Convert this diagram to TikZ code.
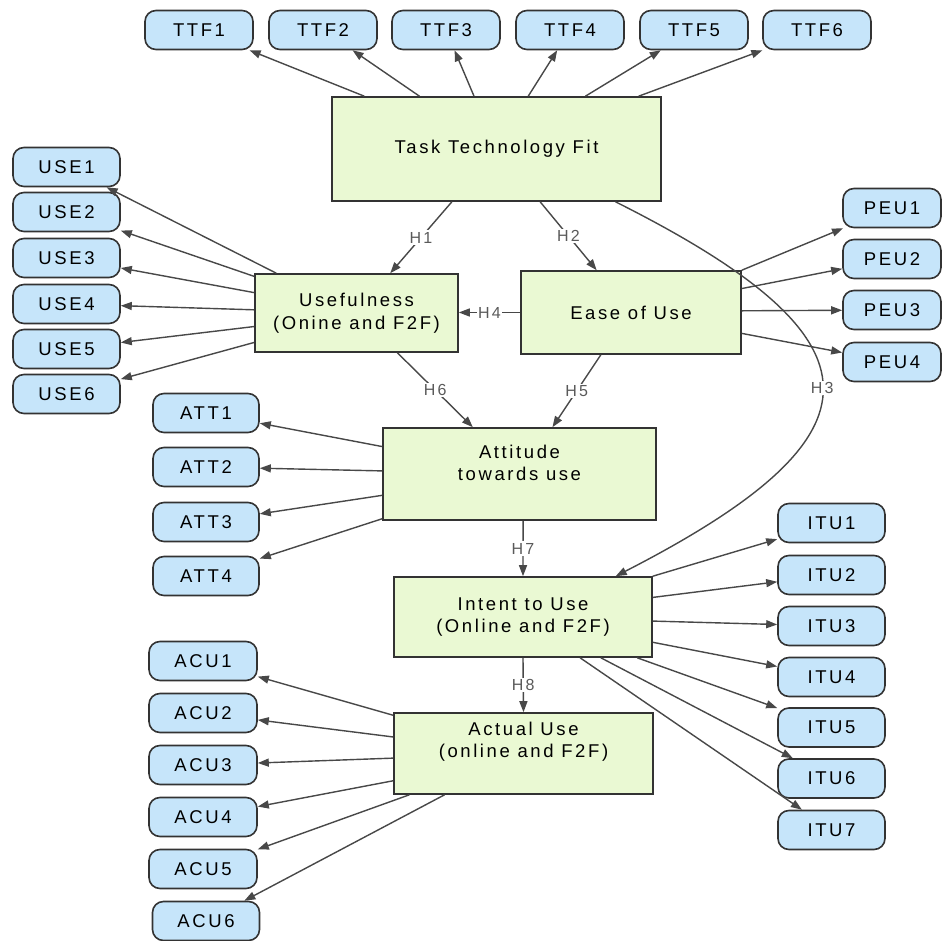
\documentclass[tikz,border=0pt]{standalone}
\usepackage{fontspec}
\setmainfont{Liberation Sans}[LetterSpace=14]
\usetikzlibrary{arrows.meta,calc}
\definecolor{indfill}{HTML}{C6E5FA}
\definecolor{confill}{HTML}{EAF9D3}
\definecolor{edgecol}{HTML}{333333}
\definecolor{arrcol}{HTML}{484848}
\definecolor{hcol}{HTML}{5A5A5A}
\begin{document}
\begin{tikzpicture}[x=1pt,y=-1pt,
  ind/.style={draw=edgecol, line width=1.6pt, fill=indfill, rounded corners=11pt,
    minimum width=107pt, minimum height=39pt, inner sep=0pt,
    font=\fontsize{18.5}{22.5}\selectfont},
  con/.style={draw=edgecol, line width=1.6pt, fill=confill, inner sep=0pt,
    align=center, font=\fontsize{18.5}{22.5}\selectfont},
  contxt/.style={inner sep=0pt, align=center, font=\fontsize{18.5}{22.5}\selectfont},
  arr/.style={draw=arrcol, line width=1.4pt, -{Triangle[length=11pt,width=8pt]}},
  hl/.style={fill=white, text=hcol, inner sep=1.5pt, font=\fontsize{16}{18}\selectfont}]
\fill[white] (0,0) rectangle (943,941);
\useasboundingbox (0,0) rectangle (943,941);

% constructs
\node[con, minimum width=329pt, minimum height=104pt] (ttf) at (496.5,149) {Task Technology Fit};
\node[con, minimum width=203pt, minimum height=78pt] (usf) at (356.5,313) {Usefulness\\(Onine and F2F)};
\node[con, minimum width=220pt, minimum height=83pt] (eou) at (631,312.5) {Ease of Use};
\node[con, minimum width=273pt, minimum height=92pt] (att) at (519.5,474) {};
\node[contxt] (attt) at ($(att.center)+(0,-11)$) {Attitude\\towards use};
\node[con, minimum width=258pt, minimum height=80pt] (int) at (523,617) {Intent to Use\\(Online and F2F)};
\node[con, minimum width=259pt, minimum height=81pt] (act) at (523.5,753.5) {};
\node[contxt] (actt) at ($(act.center)+(0,-12)$) {Actual Use\\(online and F2F)};

% indicators
\foreach \n/\x in {1/199,2/323,3/446,4/570,5/694,6/817}
  \node[ind, minimum width=108pt] (t\n) at (\x,30) {TTF\n};
\foreach \n/\y in {1/167,2/212,3/258,4/304,5/349,6/394}
  \node[ind] (u\n) at (66.5,\y) {USE\n};
\foreach \n/\y in {1/208,2/259,3/310,4/362}
  \node[ind, minimum width=98pt] (p\n) at (892,\y) {PEU\n};
\foreach \n/\y in {1/413,2/467,3/522,4/576}
  \node[ind, minimum width=106pt] (a\n) at (206,\y) {ATT\n};
\foreach \n/\y in {1/523,2/575,3/626,4/677,5/727.5,6/778.5,7/830}
  \node[ind] (i\n) at (831.5,\y) {ITU\n};
\foreach \n/\y in {1/661,2/713,3/765,4/817,5/869}
  \node[ind, minimum width=108pt] (c\n) at (203,\y) {ACU\n};
\node[ind] (c6) at (206,921) {ACU6};

% TTF indicators
\foreach \f/\n in {0.10/1,0.267/2,0.432/3,0.596/4,0.769/5,0.930/6}
  \draw[arr] ($(ttf.north west)!\f!(ttf.north east)$) -- (t\n);
% USE indicators
\draw[arr] ($(usf.north west)!0.108!(usf.north east)$) -- (u1);
\foreach \f/\n in {0.04/2,0.244/3,0.46/4,0.67/5,0.87/6}
  \draw[arr] ($(usf.north west)!\f!(usf.south west)$) -- (u\n);
% PEU indicators
\draw[arr] (eou.north east) -- (p1);
\foreach \f/\n in {0.217/2,0.48/3,0.747/4}
  \draw[arr] ($(eou.north east)!\f!(eou.south east)$) -- (p\n);
% ATT indicators
\foreach \f/\n in {0.207/1,0.467/2,0.728/3,0.978/4}
  \draw[arr] ($(att.north west)!\f!(att.south west)$) -- (a\n);
% ITU indicators
\draw[arr] (int.north east) -- (i1);
\foreach \f/\n in {0.26/2,0.55/3,0.81/4}
  \draw[arr] ($(int.north east)!\f!(int.south east)$) -- (i\n);
\foreach \f/\n in {0.94/5,0.80/6,0.72/7}
  \draw[arr] ($(int.south west)!\f!(int.south east)$) -- (i\n);
% ACU indicators
\foreach \f/\n in {0.037/1,0.30/2,0.556/3,0.83/4}
  \draw[arr] ($(act.north west)!\f!(act.south west)$) -- (c\n);
\foreach \f/\n in {0.062/5,0.197/6}
  \draw[arr] ($(act.south west)!\f!(act.south east)$) -- (c\n);

% hypotheses
\draw[arr] ($(ttf.south west)!0.365!(ttf.south east)$) -- node[hl]{H1} ($(usf.north west)!0.665!(usf.north east)$);
\draw[arr] ($(ttf.south west)!0.632!(ttf.south east)$) -- node[hl]{H2} ($(eou.north west)!0.345!(eou.north east)$);
\draw[arr] ($(ttf.south west)!0.86!(ttf.south east)$) .. controls (891,340) and (891,435) .. ($(int.north west)!0.857!(int.north east)$) node[hl,pos=0.5]{H3};
\draw[arr] (eou.west) -- node[hl]{H4} (eou.west -| usf.east);
\draw[arr] ($(eou.south west)!0.364!(eou.south east)$) -- node[hl]{H5} ($(att.north west)!0.62!(att.north east)$);
\draw[arr] ($(usf.south west)!0.70!(usf.south east)$) -- node[hl]{H6} ($(att.north west)!0.33!(att.north east)$);
\draw[arr] ($(att.south west)!0.513!(att.south east)$) -- node[hl]{H7} (int.north);
\draw[arr] (int.south) -- node[hl]{H8} (act.north);
\end{tikzpicture}
\end{document}
